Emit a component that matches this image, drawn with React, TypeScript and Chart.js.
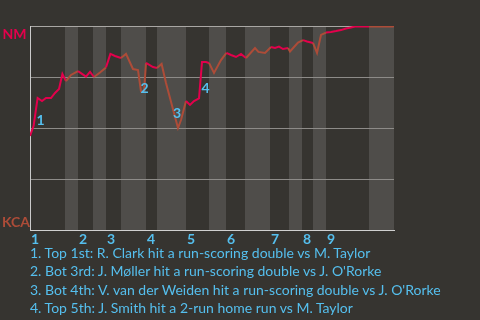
import React, { useEffect, useRef } from "react";
import { Chart, registerables } from "chart.js";

Chart.register(...registerables);

// ---- data ----
const EVENT_X = [
  0, 0.9, 1.9, 3, 4, 5.25, 6.25, 7.25, 8.1, 9, 10.25, 12, 14, 15, 16, 17.5, 19, 20.1, 21.25, 22.75,
  24, 25.75, 27, 27.75, 28.5, 29, 30.75, 31.75, 32.9, 34, 37, 37.75, 39, 40, 41, 42.25, 43, 44, 44.75,
  46, 47.75, 49.1, 50.25, 51.5, 52.75, 54, 56.25, 57.1, 58.75, 60.25, 61.25, 62.25, 63.25, 64.5, 65,
  67, 68.25, 69.25, 70.75, 71.75, 72.75, 74, 75.25, 76.5, 77.75, 79, 80.25, 81.25, 84.75, 90.75, 91,
];
const WIN_PROB = [
  0.461, 0.51, 0.647, 0.632, 0.647, 0.647, 0.672, 0.691, 0.765, 0.73, 0.76, 0.779, 0.752, 0.775, 0.75,
  0.772, 0.797, 0.863, 0.853, 0.843, 0.863, 0.789, 0.784, 0.679, 0.679, 0.819, 0.799, 0.794, 0.814,
  0.721, 0.5, 0.539, 0.632, 0.613, 0.632, 0.645, 0.823, 0.823, 0.819, 0.77, 0.833, 0.868, 0.858, 0.848,
  0.863, 0.843, 0.892, 0.873, 0.868, 0.897, 0.892, 0.899, 0.887, 0.892, 0.875, 0.919, 0.931, 0.924,
  0.917, 0.868, 0.956, 0.968, 0.971, 0.975, 0.98, 0.988, 0.993, 0.997, 0.997, 0.997, 1.0,
];
const X_MAX = 91;
const TOP_HALF_STARTS = [0, 12, 19, 29, 39, 49, 60, 68, 74];
const BOTTOM_HALF_STARTS = [8.75, 15.75, 22.75, 31.75, 44.75, 53.75, 64.75, 70.75, 84.75];
const INNING_LABELS = ["1", "2", "3", "4", "5", "6", "7", "8", "9"];
const Y_TICKS = [0, 0.25, 0.5, 0.75, 1];
const TEAM_TOP = "NM";
const TEAM_BOTTOM = "KCA";
const MARKER_LABELS = ["1", "2", "3", "4"];
const MARKER_EVENT_START_X = [0.9, 27, 34, 42.25];
const NOTES = [
  "1. Top 1st: R. Clark hit a run-scoring double vs M. Taylor",
  "2. Bot 3rd: J. Møller hit a run-scoring double vs J. O'Rorke",
  "3. Bot 4th: V. van der Weiden hit a run-scoring double vs J. O'Rorke",
  "4. Top 5th: J. Smith hit a 2-run home run vs M. Taylor",
];

// ---- styles ----
const BG = "#363430";
const BAND = "#4f4d4a";
const RED = "#e3004c";
const BROWN = "#ad4c38";
const BLUE = "#55bfee";
const FONT = "Lato, 'Noto Sans', sans-serif";

function isTopHalf(x: number): boolean {
  let lastTop = -Infinity;
  let lastBot = -Infinity;
  TOP_HALF_STARTS.forEach((v) => { if (v <= x) lastTop = v; });
  BOTTOM_HALF_STARTS.forEach((v) => { if (v <= x) lastBot = v; });
  return lastTop >= lastBot;
}

const bandsPlugin = {
  id: "bands",
  beforeDraw(chart: any) {
    const { ctx, chartArea } = chart;
    const xs = chart.scales.x;
    ctx.save();
    ctx.fillStyle = BAND;
    BOTTOM_HALF_STARTS.forEach((start) => {
      const nextTops = TOP_HALF_STARTS.filter((t) => t > start);
      const end = nextTops.length ? nextTops[0] : X_MAX;
      const x0 = xs.getPixelForValue(start);
      const x1 = xs.getPixelForValue(end);
      ctx.fillRect(x0, chartArea.top, x1 - x0, chartArea.bottom - chartArea.top);
    });
    ctx.restore();
  },
};

const labelsPlugin = {
  id: "labels",
  afterDatasetsDraw(chart: any) {
    const { ctx, chartArea } = chart;
    const meta = chart.getDatasetMeta(0);
    ctx.save();
    ctx.font = `bold 14px ${FONT}`;
    ctx.textAlign = "left";
    ctx.fillStyle = RED;
    ctx.textBaseline = "top";
    ctx.fillText(TEAM_TOP, 2.5, chartArea.top + 1.5);
    ctx.fillStyle = BROWN;
    ctx.textBaseline = "alphabetic";
    ctx.fillText(TEAM_BOTTOM, 2, chartArea.bottom - 3);
    ctx.font = `bold 14px ${FONT}`;
    ctx.fillStyle = BLUE;
    ctx.textBaseline = "top";
    MARKER_LABELS.forEach((lab, k) => {
      const i = EVENT_X.indexOf(MARKER_EVENT_START_X[k]);
      const a = meta.data[i];
      const b = meta.data[i + 1];
      const mx = (a.x + b.x) / 2;
      const my = (a.y + b.y) / 2;
      ctx.fillText(lab, mx + 1, my + 1);
    });
    ctx.restore();
  },
};

function WinChart() {
  const ref = useRef<HTMLCanvasElement | null>(null);
  useEffect(() => {
    document.body.style.margin = "0";
    document.body.style.background = BG;
    const chart = new Chart(ref.current as HTMLCanvasElement, {
      type: "line",
      data: {
        datasets: [
          {
            data: EVENT_X.map((x, i) => ({ x, y: WIN_PROB[i] })),
            borderWidth: 2,
            borderColor: RED,
            pointRadius: 0,
            tension: 0,
            segment: {
              borderColor: (c: any) =>
                isTopHalf((c.p0.parsed.x + c.p1.parsed.x) / 2) ? RED : BROWN,
            },
          },
        ],
      },
      options: {
        animation: false,
        responsive: false,
        maintainAspectRatio: false,
        layout: { padding: { left: 30, right: 86, top: 26, bottom: 70 } },
        plugins: { legend: { display: false }, tooltip: { enabled: false } },
        scales: {
          x: {
            type: "linear",
            min: 0,
            max: X_MAX,
            afterBuildTicks: (s: any) => {
              s.ticks = TOP_HALF_STARTS.map((v) => ({ value: v }));
            },
            afterFit: (s: any) => {
              s.height = 20;
            },
            ticks: {
              autoSkip: false,
              maxRotation: 0,
              align: "start",
              labelOffset: 1,
              padding: 1,
              color: BLUE,
              font: { family: FONT, size: 14, weight: "bold" },
              callback: (_v: any, i: number) => INNING_LABELS[i],
            },
            grid: { display: false, drawTicks: false },
            border: { display: true, color: "#d0d0d0", width: 1 },
          },
          y: {
            min: 0,
            max: 1,
            afterBuildTicks: (s: any) => {
              s.ticks = Y_TICKS.map((v) => ({ value: v }));
            },
            afterFit: (s: any) => {
              s.width = 0;
            },
            ticks: { display: false },
            grid: {
              drawTicks: false,
              color: (c: any) => (c.tick && c.tick.value === 1 ? "#a9a7a4" : "#8d8b88"),
              lineWidth: 1,
            },
            border: { display: true, color: "#cacaca", width: 1 },
          },
        },
      },
      plugins: [bandsPlugin, labelsPlugin],
    } as any);
    return () => chart.destroy();
  }, []);
  return <canvas ref={ref} width={480} height={320} style={{ position: "absolute", left: 0, top: 0 }} />;
}

export default function App() {
  return (
    <div style={{ position: "relative", width: 480, height: 320, background: BG, overflow: "hidden" }}>
      <WinChart />
      <div
        style={{
          position: "absolute",
          left: 30,
          top: 244,
          color: BLUE,
          fontFamily: FONT,
          fontSize: 14,
          lineHeight: "18.3px",
          whiteSpace: "nowrap",
        }}
      >
        {NOTES.map((n) => (
          <div key={n}>{n}</div>
        ))}
      </div>
    </div>
  );
}
